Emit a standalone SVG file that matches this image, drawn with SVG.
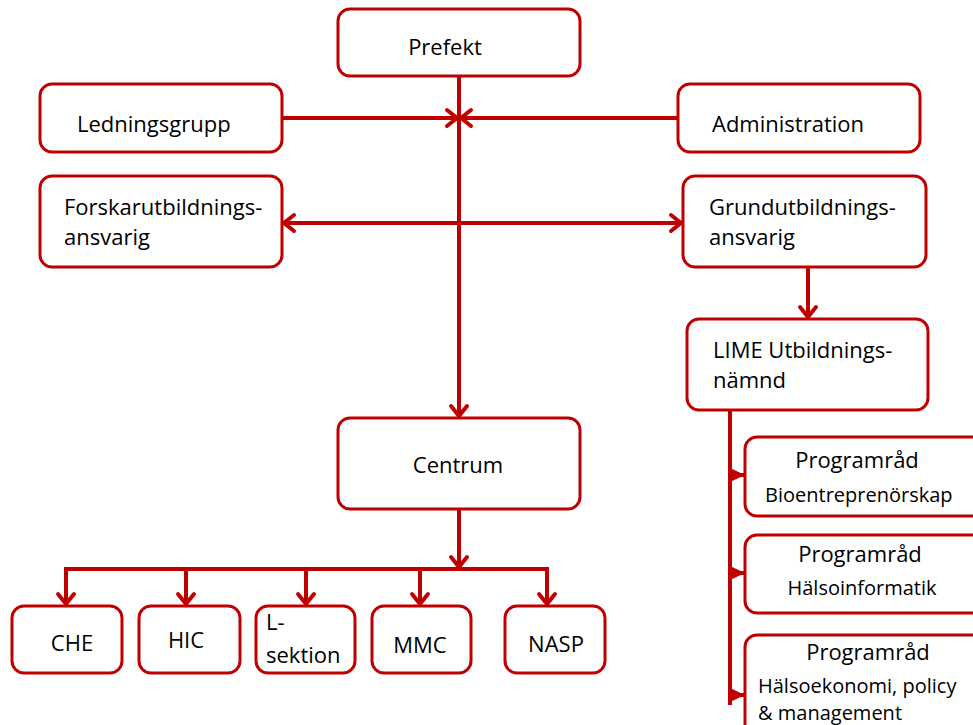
<svg xmlns="http://www.w3.org/2000/svg" width="973" height="725" viewBox="0 0 973 725">
<style>
  .box { fill: #ffffff; stroke: #C00000; stroke-width: 3; }
  .t { font-family: "Open Sans", "Liberation Sans", sans-serif; font-size: 22px; fill: #000000; }
  .s { font-family: "Open Sans", "Liberation Sans", sans-serif; font-size: 20px; fill: #000000; }
  .c { text-anchor: middle; }
  .ln { fill: none; stroke: #C00000; stroke-width: 4; }
</style>
<defs>
  <marker id="arr" markerUnits="userSpaceOnUse" markerWidth="24" markerHeight="24" refX="12" refY="12" orient="auto-start-reverse" overflow="visible">
    <path d="M2,4 L12,12 L2,20" fill="none" stroke="#C00000" stroke-width="4" stroke-linecap="round" stroke-linejoin="miter"/>
  </marker>
  <marker id="tri" markerUnits="userSpaceOnUse" markerWidth="16" markerHeight="16" refX="15" refY="8" orient="auto" overflow="visible">
    <path d="M0,1 L15,8 L0,15 Z" fill="#C00000"/>
  </marker>
</defs>

<g id="connectors">
  <line class="ln" x1="459" y1="76" x2="459" y2="416" marker-end="url(#arr)"/>
  <line class="ln" x1="282" y1="118" x2="457" y2="118" marker-end="url(#arr)"/>
  <line class="ln" x1="678" y1="118" x2="461" y2="118" marker-end="url(#arr)"/>
  <line class="ln" x1="284" y1="223" x2="681" y2="223" marker-start="url(#arr)" marker-end="url(#arr)"/>
  <line class="ln" x1="808" y1="267" x2="808" y2="317" marker-end="url(#arr)"/>
  <line class="ln" x1="459" y1="509" x2="459" y2="567" marker-end="url(#arr)"/>
  <polyline class="ln" points="66,604 66,569 547,569 547,604"/>
  <line class="ln" x1="66" y1="569" x2="66" y2="604" marker-end="url(#arr)"/>
  <line class="ln" x1="186" y1="569" x2="186" y2="604" marker-end="url(#arr)"/>
  <line class="ln" x1="306" y1="569" x2="306" y2="604" marker-end="url(#arr)"/>
  <line class="ln" x1="420" y1="569" x2="420" y2="604" marker-end="url(#arr)"/>
  <line class="ln" x1="547" y1="569" x2="547" y2="604" marker-end="url(#arr)"/>
  <line class="ln" x1="730" y1="410" x2="730" y2="705"/>
  <line class="ln" x1="730" y1="475" x2="745" y2="475" stroke-width="3" marker-end="url(#tri)"/>
  <line class="ln" x1="730" y1="573" x2="745" y2="573" stroke-width="3" marker-end="url(#tri)"/>
  <line class="ln" x1="730" y1="695" x2="745" y2="695" stroke-width="3" marker-end="url(#tri)"/>
</g>

<g id="prefekt">
  <rect class="box" x="338" y="9" width="242" height="67" rx="12"/>
  <text class="t c" x="445" y="55">Prefekt</text>
</g>
<g id="ledningsgrupp">
  <rect class="box" x="40" y="84" width="242" height="68" rx="12"/>
  <text class="t" x="77" y="132">Ledningsgrupp</text>
</g>
<g id="administration">
  <rect class="box" x="678" y="84" width="242" height="68" rx="12"/>
  <text class="t" x="712" y="132">Administration</text>
</g>
<g id="forskarutbildningsansvarig">
  <rect class="box" x="40" y="176" width="242" height="91" rx="12"/>
  <text class="t" x="64" y="215">Forskarutbildnings-</text>
  <text class="t" x="64" y="245">ansvarig</text>
</g>
<g id="grundutbildningsansvarig">
  <rect class="box" x="683" y="176" width="243" height="91" rx="12"/>
  <text class="t" x="709" y="215">Grundutbildnings-</text>
  <text class="t" x="709" y="245">ansvarig</text>
</g>
<g id="lime">
  <rect class="box" x="687" y="319" width="241" height="91" rx="12"/>
  <text class="t" x="713" y="358">LIME Utbildnings-</text>
  <text class="t" x="713" y="388">nämnd</text>
</g>
<g id="centrum">
  <rect class="box" x="338" y="418" width="242" height="91" rx="12"/>
  <text class="t c" x="458" y="473">Centrum</text>
</g>
<g id="che">
  <rect class="box" x="12" y="606" width="110" height="67" rx="12"/>
  <text class="t c" x="72" y="651">CHE</text>
</g>
<g id="hic">
  <rect class="box" x="139" y="606" width="101" height="67" rx="12"/>
  <text class="t c" x="186" y="648">HIC</text>
</g>
<g id="lsektion">
  <rect class="box" x="256" y="606" width="99" height="67" rx="12"/>
  <text class="t" x="266" y="630">L-</text>
  <text class="t" x="266" y="663">sektion</text>
</g>
<g id="mmc">
  <rect class="box" x="372" y="606" width="99" height="67" rx="12"/>
  <text class="t c" x="420" y="653">MMC</text>
</g>
<g id="nasp">
  <rect class="box" x="505" y="606" width="100" height="67" rx="12"/>
  <text class="t c" x="556" y="652">NASP</text>
</g>
<g id="programrad-bio">
  <rect class="box" x="745" y="437" width="245" height="79" rx="12"/>
  <text class="t c" x="857" y="468">Programråd</text>
  <text class="s" x="765" y="502">Bioentreprenörskap</text>
</g>
<g id="programrad-halsoinformatik">
  <rect class="box" x="745" y="535" width="245" height="78" rx="12"/>
  <text class="t c" x="860" y="562">Programråd</text>
  <text class="s c" x="862" y="595">Hälsoinformatik</text>
</g>
<g id="programrad-halsoekonomi">
  <rect class="box" x="745" y="635" width="245" height="110" rx="12"/>
  <text class="t c" x="868" y="660">Programråd</text>
  <text class="s" x="758" y="693">Hälsoekonomi, policy</text>
  <text class="s" x="758" y="720">&amp; management</text>
</g>
</svg>
